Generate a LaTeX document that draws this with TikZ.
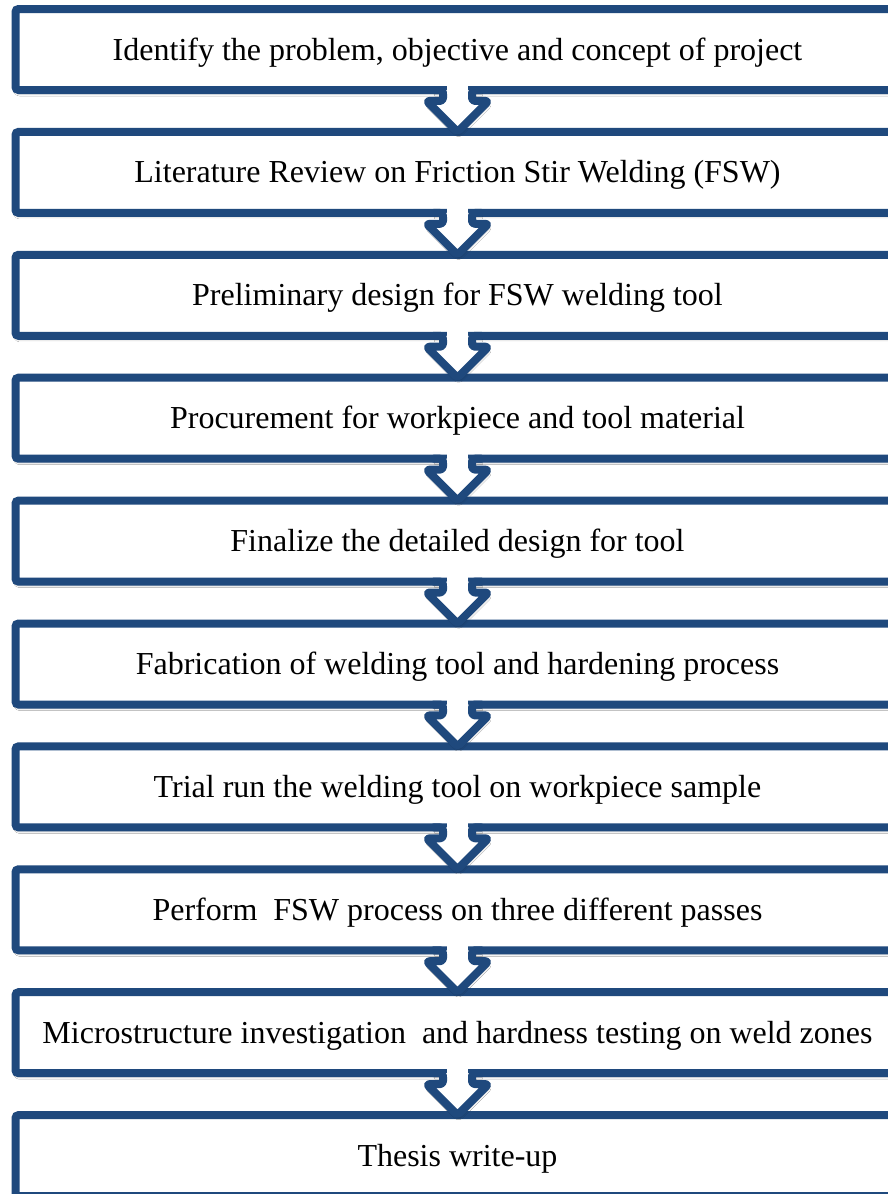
\documentclass[tikz,border=0pt]{standalone}
\usepackage{fontspec}
\setmainfont{Liberation Serif}
\usetikzlibrary{calc,shadows.blur}
\definecolor{frameblue}{HTML}{1F497D}
\tikzset{
  softshadow/.style={blur shadow={shadow xshift=1pt, shadow yshift=-3pt, shadow blur radius=3pt, shadow opacity=40}},
  stepbox/.style={draw=frameblue, line width=8pt, fill=white, rounded corners=3pt,
    minimum width=884pt, minimum height=81pt, inner sep=0pt, outer sep=0pt,
    text height=28pt, text depth=7pt,
    font=\fontsize{32}{38}\selectfont, text=black, softshadow},
  flowarrow/.style={draw=frameblue, line width=8pt, line join=round, line cap=round,
    fill=white, rounded corners=3pt, softshadow},
}
\begin{document}
\begin{tikzpicture}[x=1pt,y=-1pt]
\clip (0,0) rectangle (888,1194);
\fill[white] (0,0) rectangle (888,1194);
\foreach \i/\t in {
 1/{Identify the problem, objective and concept of project},
 2/{Literature Review on Friction Stir Welding (FSW)},
 3/{Preliminary design for FSW welding tool},
 4/{Procurement for workpiece and tool material},
 5/{Finalize the detailed design for tool},
 6/{Fabrication of welding tool and hardening process},
 7/{Trial run the welding tool on workpiece sample},
 8/{Perform\ \ FSW process on three different passes},
 9/{Microstructure investigation\ \ and hardness testing on weld zones},
 10/{Thesis write-up}}{
  \node[stepbox] (b\i) at (457.5,{49.5+122.9*(\i-1)}) {\t};
}
\foreach \i [evaluate=\i as \j using int(\i+1)] in {1,...,9}{
  \draw[flowarrow]
    ($(b\i.south)+(-24,0)$) -- ($(b\i.south)+(-14.5,0)$) -- ($(b\j.north)+(-14.5,-31)$) -- ($(b\j.north)+(-31,-31)$)
    -- (b\j.north) -- ($(b\j.north)+(31,-31)$) -- ($(b\j.north)+(14.5,-31)$)
    -- ($(b\i.south)+(14.5,0)$) -- ($(b\i.south)+(24,0)$);
  \fill[white] ($(b\i.south)+(-10.5,-4.5)$) rectangle ($(b\i.south)+(10.5,4)$);
}
\end{tikzpicture}
\end{document}
